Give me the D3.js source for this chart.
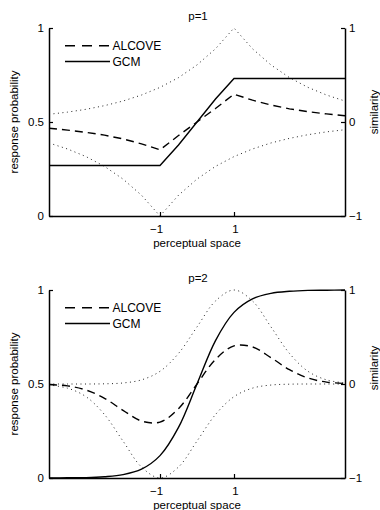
<!DOCTYPE html>
<html>
<head>
<meta charset="utf-8">
<script src="https://cdn.jsdelivr.net/npm/d3@7/dist/d3.min.js"></script>
<style>
  html, body { margin: 0; padding: 0; background: #fff; }
  svg { display: block; }
  text { font-family: "Liberation Sans", Arial, Helvetica, sans-serif; fill: #000; }
</style>
</head>
<body>
<svg id="chart" width="380" height="510"></svg>
<script>
// ---------- DATA ----------
const titles = ["p=1", "p=2"];
const seriesNames = ["ALCOVE", "GCM"];
const xLabel = "perceptual space";
const yLabelLeft = "response probability";
const yLabelRight = "similarity";
const xTicks = [-1, 1];
const yTicksLeft = [0, 0.5, 1];
const yTicksRight = [-1, 0, 1];

// perceptual space positions (shared by all series)
const xs = [-4, -3.5, -3, -2.5, -2, -1.5, -1, -0.5, 0, 0.5, 1, 1.5, 2, 2.5, 3, 3.5, 4];

// panel p=1
const alcove1 = [0.467, 0.457, 0.445, 0.430, 0.410, 0.384, 0.352, 0.428, 0.500, 0.572, 0.648, 0.616, 0.590, 0.570, 0.555, 0.543, 0.533];
const gcm1    = [0.269, 0.269, 0.269, 0.269, 0.269, 0.269, 0.269, 0.378, 0.500, 0.622, 0.731, 0.731, 0.731, 0.731, 0.731, 0.731, 0.731];
const simA1   = [0.082, 0.105, 0.135, 0.174, 0.223, 0.287, 0.368, 0.472, 0.607, 0.779, 1.000, 0.779, 0.607, 0.472, 0.368, 0.287, 0.223];
const simB1   = [-0.223, -0.287, -0.368, -0.472, -0.607, -0.779, -1.000, -0.779, -0.607, -0.472, -0.368, -0.287, -0.223, -0.174, -0.135, -0.105, -0.082];

// panel p=2
const alcove2 = [0.497, 0.490, 0.468, 0.424, 0.360, 0.303, 0.297, 0.369, 0.500, 0.631, 0.703, 0.697, 0.640, 0.576, 0.532, 0.510, 0.503];
const gcm2    = [0.000, 0.001, 0.002, 0.007, 0.018, 0.047, 0.119, 0.269, 0.500, 0.731, 0.881, 0.953, 0.982, 0.993, 0.998, 0.999, 1.000];
const simA2   = [0.000, 0.000, 0.000, 0.002, 0.011, 0.044, 0.135, 0.325, 0.607, 0.883, 1.000, 0.883, 0.607, 0.325, 0.135, 0.044, 0.011];
const simB2   = [-0.011, -0.044, -0.135, -0.325, -0.607, -0.883, -1.000, -0.883, -0.607, -0.325, -0.135, -0.044, -0.011, -0.002, 0.000, 0.000, 0.000];

// ---------- DRAWING ----------
const svg = d3.select("#chart");
svg.append("rect").attr("width", 380).attr("height", 510).attr("fill", "#fff");

const W = { left: 49, right: 345 };
const PH = 188;
const FS = 11.5;

const panels = [
  { top: 28,  title: titles[0], alcove: alcove1, gcm: gcm1, simA: simA1, simB: simB1, curve: d3.curveLinear, simLabelY: 112 },
  { top: 290, title: titles[1], alcove: alcove2, gcm: gcm2, simA: simA2, simB: simB2, curve: d3.curveCatmullRom.alpha(0.5), simLabelY: 368 }
];

panels.forEach(p => {
  const g = svg.append("g");
  const x = d3.scaleLinear().domain([-4, 4]).range([W.left, W.right]);
  const y = d3.scaleLinear().domain([0, 1]).range([p.top + PH, p.top]);
  const yR = d3.scaleLinear().domain([-1, 1]).range([p.top + PH, p.top]);

  const lineL = d3.line().x((d, i) => x(xs[i])).y(d => y(d)).curve(p.curve);
  const lineR = d3.line().x((d, i) => x(xs[i])).y(d => yR(d)).curve(p.curve);

  // similarity (dotted)
  [p.simA, p.simB].forEach(s => {
    g.append("path").datum(s).attr("d", lineR)
      .attr("fill", "none").attr("stroke", "#222").attr("stroke-width", 1)
      .attr("stroke-dasharray", "1,3.5");
  });
  // ALCOVE (dashed)
  g.append("path").datum(p.alcove).attr("d", lineL)
    .attr("fill", "none").attr("stroke", "#000").attr("stroke-width", 1.4)
    .attr("stroke-dasharray", "8,5");
  // GCM (solid)
  g.append("path").datum(p.gcm).attr("d", lineL)
    .attr("fill", "none").attr("stroke", "#000").attr("stroke-width", 1.4);

  // axes
  const styleAxis = sel => {
    sel.selectAll("path.domain").attr("stroke", "#000").attr("stroke-width", 1.5);
    sel.selectAll(".tick line").attr("stroke", "#000").attr("stroke-width", 1.2);
    sel.selectAll("text").style("font-size", FS + "px").attr("fill", "#000");
  };
  const fmt = d => (d < 0 ? "\u2212" + Math.abs(d) : String(d));

  g.append("g").attr("transform", `translate(${W.left},0)`)
    .call(d3.axisLeft(y).tickValues(yTicksLeft).tickFormat(fmt).tickSize(-4).tickSizeOuter(0).tickPadding(5))
    .call(styleAxis);
  g.append("g").attr("transform", `translate(${W.right},0)`)
    .call(d3.axisRight(yR).tickValues(yTicksRight).tickFormat(fmt).tickSize(-4).tickSizeOuter(0).tickPadding(4))
    .call(styleAxis);
  const xa = g.append("g").attr("transform", `translate(0,${p.top + PH})`)
    .call(d3.axisBottom(x).tickValues(xTicks).tickFormat(fmt).tickSize(-4).tickSizeOuter(0).tickPadding(9))
    .call(styleAxis);
  xa.selectAll(".tick text").attr("dx", d => d < 0 ? -4 : 1);

  // title
  g.append("text").attr("x", 198).attr("y", p.top - 8).attr("text-anchor", "middle")
    .style("font-size", FS + "px").text(p.title);
  // x label
  g.append("text").attr("x", 197).attr("y", p.top + PH + 31).attr("text-anchor", "middle")
    .style("font-size", FS + "px").text(xLabel);
  // y labels
  g.append("text").attr("transform", `translate(18,${p.top + PH / 2}) rotate(-90)`)
    .attr("text-anchor", "middle").style("font-size", FS + "px").text(yLabelLeft);
  g.append("text").attr("transform", `translate(377.5,${p.simLabelY}) rotate(-90)`)
    .attr("text-anchor", "middle").style("font-size", FS + "px").text(yLabelRight);

  // legend
  const leg = g.append("g");
  seriesNames.forEach((name, i) => {
    const ly = p.top + 17.7 + i * 15.8;
    leg.append("line").attr("x1", 65).attr("x2", 110).attr("y1", ly).attr("y2", ly)
      .attr("stroke", "#000").attr("stroke-width", 1.4)
      .attr("stroke-dasharray", i === 0 ? "10,7" : null);
    leg.append("text").attr("x", 112.5).attr("y", ly + 4.3)
      .style("font-size", "12px").text(name);
  });
});
</script>
</body>
</html>
